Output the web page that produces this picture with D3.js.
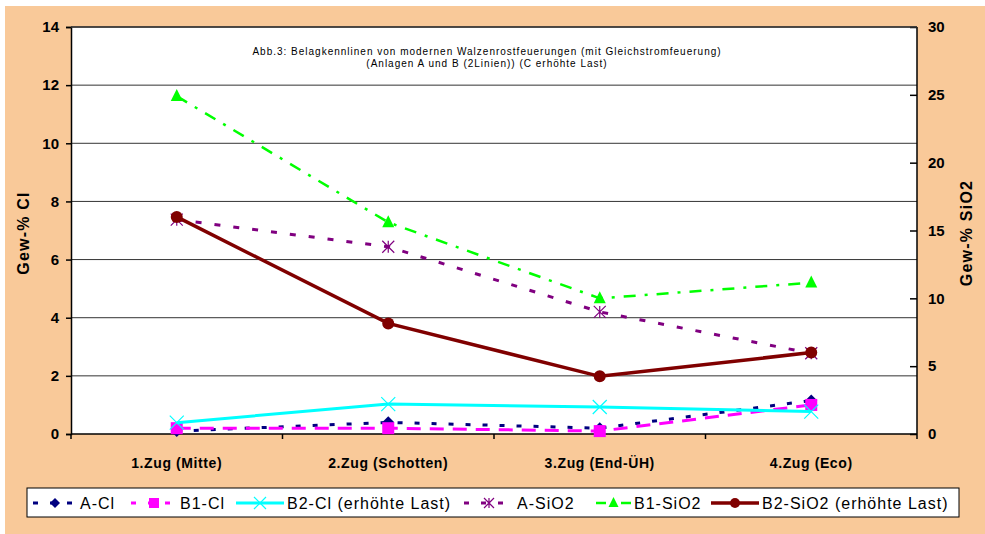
<!DOCTYPE html>
<html><head><meta charset="utf-8">
<script src="https://cdn.jsdelivr.net/npm/d3@7"></script>
<style>html,body{margin:0;padding:0;background:#fff;}svg{display:block;}</style>
</head><body>
<svg id="c" width="985" height="534"></svg>
<script>
const categories = ["1.Zug (Mitte)", "2.Zug (Schotten)", "3.Zug (End-ÜH)", "4.Zug (Eco)"];
const aCl = [0.1, 0.4, 0.2, 1.15];
const b1Cl = [0.2, 0.2, 0.1, 1.0];
const b2Cl = [0.39, 1.03, 0.93, 0.77];
const aSiO2 = [15.8, 13.8, 9.0, 5.95];
const b1SiO2 = [24.9, 15.6, 10.0, 11.15];
const b2SiO2 = [16.0, 8.15, 4.25, 6.0];
const leftTicks = [0, 2, 4, 6, 8, 10, 12, 14];
const rightTicks = [0, 5, 10, 15, 20, 25, 30];
const titleLines = ["Abb.3: Belagkennlinen von modernen Walzenrostfeuerungen (mit Gleichstromfeuerung)", "(Anlagen A und B (2Linien)) (C erhöhte Last)"];

const series = [
  {name:"A-Cl", data:aCl, axis:"L", color:"#000080", width:3, dash:"5,12", marker:"diamond"},
  {name:"B1-Cl", data:b1Cl, axis:"L", color:"#FF00FF", width:3, dash:"14,9", marker:"square"},
  {name:"B2-Cl", data:b2Cl, axis:"L", color:"#00FFFF", width:3, dash:null, marker:"x"},
  {name:"A-SiO2", data:aSiO2, axis:"R", color:"#800080", width:3, dash:"6,13", marker:"asterisk"},
  {name:"B1-SiO2", data:b1SiO2, axis:"R", color:"#00FF00", width:2.5, dash:"12,9,3,9", marker:"triangle"},
  {name:"B2-SiO2 (erhöhte Last)", data:b2SiO2, axis:"R", color:"#800000", width:3.5, dash:null, marker:"circle"}
];
const legendNames = ["A-Cl","B1-Cl","B2-Cl (erhöhte Last)","A-SiO2","B1-SiO2","B2-SiO2 (erhöhte Last)"];

const svg = d3.select("#c");
svg.append("rect").attr("x",5).attr("y",6).attr("width",980).attr("height",528).attr("fill","#F9C999");

const L = 71, R = 917, T = 27, B = 434;
svg.append("rect").attr("x",L).attr("y",T).attr("width",R-L).attr("height",B-T).attr("fill","#fff");

const x = d3.scaleBand().domain(categories).range([L,R]);
const yL = d3.scaleLinear().domain([0,14]).range([B,T]);
const yR = d3.scaleLinear().domain([0,30]).range([B,T]);

// gridlines
svg.append("g").selectAll("line").data(leftTicks.filter(d=>d>0)).join("line")
  .attr("x1",L).attr("x2",R).attr("y1",d=>yL(d)).attr("y2",d=>yL(d))
  .attr("stroke","#333").attr("stroke-width",1);

const font = "Arial, 'Liberation Sans', sans-serif";
// left axis
const gL = svg.append("g").attr("transform",`translate(${L},0)`)
  .call(d3.axisLeft(yL).tickValues(leftTicks).tickSize(5).tickPadding(7));
gL.selectAll("text").attr("font-family",font).attr("font-weight","bold").attr("font-size",15).attr("fill","#000");
gL.selectAll("line,path").attr("stroke","#000").attr("stroke-width",1.5);
// right axis
const gR = svg.append("g").attr("transform",`translate(${R},0)`)
  .call(d3.axisRight(yR).tickValues(rightTicks).tickSize(-7).tickPadding(11));
gR.select("path").remove();
gR.append("line").attr("x1",0).attr("x2",0).attr("y1",T).attr("y2",B).attr("stroke","#000").attr("stroke-width",1.5);
gR.selectAll("text").attr("font-family",font).attr("font-weight","bold").attr("font-size",15).attr("fill","#000");
gR.selectAll(".tick line").attr("stroke","#000").attr("stroke-width",1.5);
// bottom axis
const gB = svg.append("g").attr("transform",`translate(0,${B})`);
gB.append("line").attr("x1",L).attr("x2",R).attr("stroke","#000").attr("stroke-width",1.5);
const bounds = categories.map(c=>x(c)).concat([R]);
gB.selectAll("line.t").data(bounds).join("line").attr("class","t")
  .attr("x1",d=>d).attr("x2",d=>d).attr("y1",0).attr("y2",5).attr("stroke","#000").attr("stroke-width",1.5);
gB.selectAll("text").data(categories).join("text")
  .attr("x",d=>x(d)+x.bandwidth()/2).attr("y",34).attr("text-anchor","middle")
  .attr("font-family",font).attr("font-weight","bold").attr("font-size",14).attr("letter-spacing",0.6).text(d=>d);
// top border
svg.append("line").attr("x1",L).attr("x2",R).attr("y1",T).attr("y2",T).attr("stroke","#333").attr("stroke-width",1.5);

// axis titles
svg.append("text").attr("transform","translate(29,233) rotate(-90)").attr("text-anchor","middle")
  .attr("font-family",font).attr("font-weight","bold").attr("font-size",16).attr("letter-spacing",1.2).text("Gew-% Cl");
svg.append("text").attr("transform","translate(972,233) rotate(-90)").attr("text-anchor","middle")
  .attr("font-family",font).attr("font-weight","bold").attr("font-size",16).attr("letter-spacing",1.2).text("Gew-% SiO2");

// chart title
svg.append("g").selectAll("text").data(titleLines).join("text")
  .attr("x",487).attr("y",(d,i)=>55+i*12).attr("text-anchor","middle")
  .attr("font-family",font).attr("font-size",10).attr("letter-spacing",1).attr("fill","#000").text(d=>d);

function drawMarker(g, type, color, cx, cy, s){
  if(type==="diamond") g.append("path").attr("d",`M${cx},${cy-s}L${cx+s},${cy}L${cx},${cy+s}L${cx-s},${cy}Z`).attr("fill",color);
  else if(type==="square") g.append("rect").attr("x",cx-s).attr("y",cy-s).attr("width",2*s).attr("height",2*s).attr("fill",color);
  else if(type==="triangle") g.append("path").attr("d",`M${cx},${cy-s*1.2}L${cx+s},${cy+s*0.8}L${cx-s},${cy+s*0.8}Z`).attr("fill",color);
  else if(type==="circle") g.append("circle").attr("cx",cx).attr("cy",cy).attr("r",s).attr("fill",color);
  else if(type==="x") g.append("path").attr("d",`M${cx-s},${cy-s}L${cx+s},${cy+s}M${cx-s},${cy+s}L${cx+s},${cy-s}`).attr("stroke",color).attr("stroke-width",1.2).attr("fill","none");
  else if(type==="asterisk") g.append("path").attr("d",`M${cx-s},${cy-s}L${cx+s},${cy+s}M${cx-s},${cy+s}L${cx+s},${cy-s}M${cx},${cy-s}L${cx},${cy+s}`).attr("stroke",color).attr("stroke-width",1.2).attr("fill","none");
}
const msize = {diamond:6, square:6, triangle:6, circle:6, x:7, asterisk:6};

const plot = svg.append("g");
series.forEach(s=>{
  const ys = s.axis==="L" ? yL : yR;
  const line = d3.line().x((d,i)=>x(categories[i])+x.bandwidth()/2).y(d=>ys(d));
  plot.append("path").datum(s.data).attr("d",line).attr("fill","none")
    .attr("stroke",s.color).attr("stroke-width",s.width).attr("stroke-dasharray",s.dash);
  s.data.forEach((v,i)=>drawMarker(plot, s.marker, s.color, x(categories[i])+x.bandwidth()/2, ys(v), msize[s.marker]));
});

// legend
const lg = svg.append("g");
lg.append("rect").attr("x",27).attr("y",488).attr("width",932).attr("height",29).attr("fill","#fff").attr("stroke","#000").attr("stroke-width",1);
const legendPos = [[33,80],[131,180],[236,287],[464,517],[596,634],[711,762]];
series.forEach((s,i)=>{
  const [x0,tx] = legendPos[i];
  const cy = 503;
  lg.append("line").attr("x1",x0).attr("x2",tx-3).attr("y1",cy).attr("y2",cy)
    .attr("stroke",s.color).attr("stroke-width",s.width).attr("stroke-dasharray",s.dash? (s.marker==="triangle"?"10,6,3,6":"5,12"):null);
  drawMarker(lg, s.marker, s.color, (x0+tx-3)/2, cy, msize[s.marker]-1);
  lg.append("text").attr("x",tx).attr("y",cy+6).attr("font-family",font).attr("font-size",16).attr("letter-spacing",1).attr("fill","#000").text(legendNames[i]);
});
</script>
</body></html>
